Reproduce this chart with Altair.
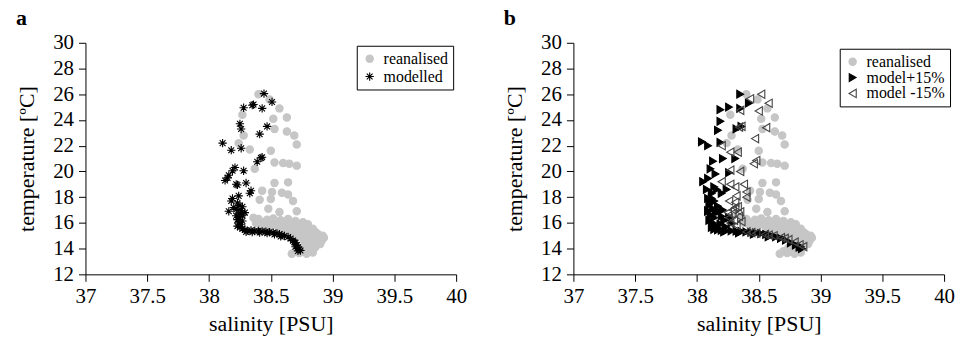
import altair as alt
import pandas as pd

FONT = "Liberation Serif"

# Reanalysed T-S profile (grey circles, drawn in both panels)
rean_sal = [38.40, 38.49, 38.57, 38.27, 38.52, 38.63, 38.53, 38.63, 38.69, 38.71, 38.28, 38.24,
            38.33, 38.50, 38.53, 38.60, 38.65, 38.71, 38.37, 38.53, 38.64, 38.43, 38.51, 38.59,
            38.64, 38.41, 38.50, 38.68, 38.48, 38.57, 38.71, 38.36,
            38.40, 38.47, 38.52, 38.58, 38.64, 38.70, 38.76,
            38.38, 38.44, 38.50, 38.56, 38.62, 38.68, 38.74, 38.80,
            38.43, 38.49, 38.55, 38.60, 38.66, 38.72, 38.78, 38.84,
            38.57, 38.63, 38.69, 38.75, 38.81, 38.86,
            38.64, 38.70, 38.76, 38.82, 38.88, 38.92,
            38.72, 38.78, 38.84, 38.89, 38.93,
            38.77, 38.83, 38.88, 38.91,
            38.80, 38.86, 38.90,
            38.74, 38.80, 38.86,
            38.70, 38.76, 38.82,
            38.67, 38.73, 38.79, 38.84]
rean_temp = [26.0, 25.6, 24.9, 24.4, 24.1, 24.2, 23.3, 23.1, 22.8, 22.1, 22.8, 22.2,
             21.7, 21.6, 20.7, 20.65, 20.6, 20.45, 20.2, 19.1, 19.15, 18.5, 18.4, 18.35,
             18.2, 17.8, 17.85, 17.7, 17.1, 16.85, 16.9, 16.4,
             16.3, 16.25, 16.35, 16.2, 16.3, 16.15, 16.05,
             16.0, 16.05, 15.95, 16.0, 15.9, 16.0, 15.85, 15.9,
             15.75, 15.7, 15.8, 15.65, 15.75, 15.6, 15.7, 15.55,
             15.5, 15.45, 15.5, 15.35, 15.45, 15.3,
             15.25, 15.15, 15.2, 15.1, 15.15, 15.0,
             14.95, 14.85, 14.9, 14.75, 14.85,
             14.6, 14.55, 14.45, 14.6,
             14.3, 14.25, 14.35,
             14.05, 14.0, 14.1,
             13.8, 13.75, 13.85,
             13.6, 13.65, 13.6, 13.7]

# Modelled profile (asterisks, panel a)
mod_sal = [38.445, 38.51, 38.35, 38.28, 38.43, 38.36, 38.25, 38.26, 38.47, 38.41, 38.11, 38.18,
           38.26, 38.42, 38.39, 38.43, 38.21, 38.19, 38.28, 38.16, 38.13, 38.22, 38.30, 38.34,
           38.33, 38.24, 38.18, 38.20, 38.16, 38.27, 38.29, 38.15, 38.23, 38.19,
           38.23, 38.25, 38.22, 38.26, 38.24, 38.22, 38.27, 38.25, 38.23, 38.27, 38.24, 38.26,
           38.23, 38.25, 38.27,
           38.29, 38.31, 38.34, 38.37, 38.40, 38.43, 38.46, 38.49, 38.52, 38.55, 38.57, 38.59,
           38.61, 38.64, 38.66, 38.68, 38.70, 38.71, 38.72, 38.73, 38.72, 38.74,
           38.30, 38.35, 38.41, 38.47, 38.53, 38.58, 38.69, 38.70]
mod_temp = [26.05, 25.4, 25.15, 24.95, 24.9, 25.2, 23.7, 23.3, 23.5, 22.9, 22.2, 21.65,
            21.8, 21.05, 20.75, 21.1, 20.3, 20.05, 20.05, 19.7, 19.3, 19.0, 19.1, 18.5,
            18.3, 18.1, 17.7, 17.2, 16.9, 17.25, 16.8, 19.5, 18.95, 17.9,
            17.55, 17.35, 17.05, 16.95, 16.75, 16.55, 16.6, 16.4, 16.25, 16.15, 16.0, 15.85,
            15.75, 15.65, 15.55,
            15.45, 15.4, 15.42, 15.38, 15.37, 15.34, 15.32, 15.28, 15.24, 15.18, 15.12, 15.05,
            14.98, 14.9, 14.78, 14.62, 14.45, 14.28, 14.1, 13.95, 13.82, 13.85,
            15.3, 15.28, 15.25, 15.2, 15.1, 14.95, 14.5, 14.15]

# Model run with +15% forcing (filled triangles, panel b)
plus_sal = [38.35, 38.42, 38.35, 38.26, 38.19, 38.19, 38.17, 38.32, 38.36, 38.04, 38.09, 38.19,
            38.13, 38.21, 38.31, 38.11, 38.15, 38.26, 38.05, 38.09, 38.14, 38.24, 38.12, 38.11,
            38.09,
            38.08, 38.12, 38.09, 38.14, 38.10, 38.13, 38.09, 38.15, 38.11, 38.14, 38.10, 38.13,
            38.15, 38.12, 38.14, 38.18, 38.20, 38.22, 38.19, 38.23, 38.17, 38.21, 38.26, 38.28,
            38.16, 38.20,
            38.17, 38.20, 38.24, 38.28, 38.32, 38.36, 38.40, 38.44, 38.48, 38.52, 38.56, 38.60,
            38.64, 38.68, 38.72, 38.76, 38.80, 38.83, 38.85, 38.84, 38.22, 38.34, 38.46, 38.58]
plus_temp = [26.0, 25.3, 24.9, 25.0, 24.8, 23.9, 23.2, 23.3, 23.5, 22.3, 22.0, 22.25,
             20.8, 21.0, 21.0, 20.2, 19.8, 19.9, 19.2, 19.45, 18.8, 18.6, 17.9, 17.6,
             16.9,
             18.6, 18.3, 17.9, 17.7, 17.4, 17.1, 16.95, 16.8, 16.6, 16.4, 16.2, 16.0,
             15.8, 15.65, 15.5, 16.9, 16.5, 16.2, 15.9, 15.7, 17.3, 17.0, 16.4, 16.0,
             18.6, 18.3,
             15.45, 15.42, 15.4, 15.38, 15.35, 15.33, 15.3, 15.27, 15.22, 15.17, 15.1, 15.02,
             14.92, 14.8, 14.65, 14.45, 14.28, 14.12, 14.0, 14.15, 15.3, 15.22, 15.12, 14.92]

# Model run with -15% forcing (open triangles, panel b)
minus_sal = [38.52, 38.58, 38.43, 38.50, 38.35, 38.34, 38.36, 38.56, 38.47, 38.20, 38.27, 38.33,
             38.48, 38.46, 38.27, 38.35, 38.20, 38.27, 38.31, 38.38, 38.40, 38.32, 38.40, 38.26,
             38.31, 38.31, 38.33, 38.28, 38.35,
             38.26, 38.30, 38.34, 38.27, 38.32, 38.36, 38.29, 38.25,
             38.40, 38.48, 38.55, 38.62, 38.68, 38.74, 38.79, 38.83, 38.86, 38.44, 38.58, 38.71]
minus_temp = [26.0, 25.3, 25.65, 24.7, 24.75, 23.45, 23.5, 23.4, 22.55, 22.0, 21.5, 21.5,
              20.85, 20.6, 20.1, 20.0, 19.2, 19.0, 18.8, 19.0, 18.4, 18.1, 18.0, 17.7,
              17.6, 17.2, 17.25, 16.7, 16.85,
              16.4, 16.2, 16.5, 16.0, 15.8, 16.1, 17.0, 16.8,
              15.3, 15.2, 15.1, 15.0, 14.85, 14.7, 14.5, 14.3, 14.15, 15.25, 15.05, 14.8]

STAR = "M-1,0L1,0M0,-1L0,1M-0.7,-0.7L0.7,0.7M-0.7,0.7L0.7,-0.7"
GREY = "#c6c6c6"


def frame(name, sal, temp):
    return pd.DataFrame({"salinity": sal, "temperature": temp, "series": name})


def panel(df, names, shapes, fills, strokes, sizes, letter, lx, ly, row_pad):
    legend = alt.Legend(
        title=None, orient="none", legendX=lx, legendY=ly,
        strokeColor="black", fillColor="white", padding=5,
        labelFont=FONT, labelFontSize=16, labelColor="black", labelOffset=6,
        rowPadding=row_pad, symbolStrokeWidth=1.1, symbolSize=45,
    )
    sc = dict(domain=names)
    return alt.Chart(df, title=alt.TitleParams(letter)).mark_point(
        strokeWidth=1.1, opacity=1
    ).encode(
        x=alt.X("salinity:Q", title="salinity [PSU]",
                scale=alt.Scale(domain=[37, 40], nice=False),
                axis=alt.Axis(values=[37, 37.5, 38, 38.5, 39, 39.5, 40], format="~g",
                              labelFlush=False, titlePadding=8, labelPadding=4)),
        y=alt.Y("temperature:Q", title="temperature [ºC]",
                scale=alt.Scale(domain=[12, 30], nice=False),
                axis=alt.Axis(values=list(range(12, 31, 2)), format="d",
                              labelFlush=False, titlePadding=14, labelPadding=5)),
        shape=alt.Shape("series:N", scale=alt.Scale(range=shapes, **sc), legend=legend),
        fill=alt.Fill("series:N", scale=alt.Scale(range=fills, **sc), legend=legend),
        stroke=alt.Stroke("series:N", scale=alt.Scale(range=strokes, **sc), legend=legend),
        size=alt.Size("series:N", scale=alt.Scale(range=sizes, **sc), legend=legend),
    ).properties(width=373, height=233)


data_a = pd.concat([frame("reanalised", rean_sal, rean_temp),
                    frame("modelled", mod_sal, mod_temp)], ignore_index=True)
data_b = pd.concat([frame("reanalised", rean_sal, rean_temp),
                    frame("model+15%", plus_sal, plus_temp),
                    frame("model -15%", minus_sal, minus_temp)], ignore_index=True)

panel_a = panel(data_a, ["reanalised", "modelled"], ["circle", STAR],
                [GREY, "transparent"], [GREY, "black"], [55, 70],
                "a", 273, 3, 2)
panel_b = panel(data_b, ["reanalised", "model+15%", "model -15%"],
                ["circle", "triangle-right", "triangle-left"],
                [GREY, "black", "transparent"], [GREY, "black", "#444444"], [55, 70, 70],
                "b", 268, 6, -1)

chart = alt.hconcat(panel_a, panel_b, spacing=37).resolve_scale(
    shape="independent", fill="independent", stroke="independent", size="independent"
).resolve_legend(
    shape="independent", fill="independent", stroke="independent", size="independent"
).properties(
    padding={"left": 16, "top": 6, "right": 0, "bottom": 0}
).configure_view(stroke=None).configure_axis(
    domainColor="black", tickColor="black", labelColor="black", titleColor="black",
    grid=False, labelFont=FONT, titleFont=FONT, labelFontSize=21, titleFontSize=22,
    titleFontWeight="normal", tickSize=7, domainWidth=1, tickWidth=1
).configure_title(
    font=FONT, fontSize=22, fontWeight="bold", anchor="start", color="black", offset=2
)

chart.save("out.html", embed_options={"renderer": "svg", "actions": False})
